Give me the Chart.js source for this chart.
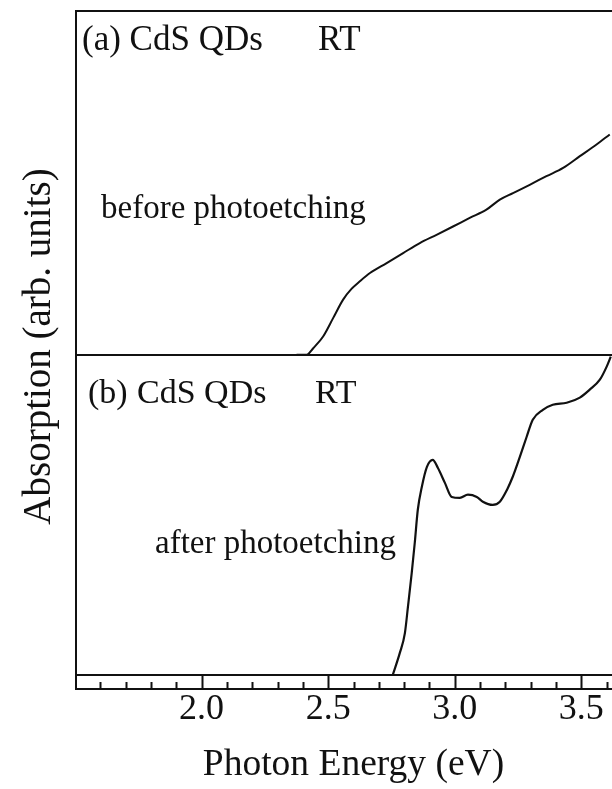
<!DOCTYPE html>
<html>
<head>
<meta charset="utf-8">
<script src="https://cdn.jsdelivr.net/npm/chart.js@4/dist/chart.umd.min.js"></script>
<style>
  html, body { margin: 0; padding: 0; background: #fff; overflow: hidden; }
  #wrap { width: 634px; height: 789px; }
</style>
</head>
<body>
<div id="wrap"><canvas id="absorption-chart" width="634" height="789"></canvas></div>
<script>
// (a) before photoetching
const energyA = [2.375, 2.415, 2.441, 2.480, 2.520, 2.559, 2.592, 2.625, 2.665, 2.731, 2.796, 2.862,
    2.928, 2.993, 3.059, 3.125, 3.178, 3.230, 3.296, 3.362, 3.428, 3.494, 3.560, 3.612];
const absorbA = [0, 0, 0.019, 0.053, 0.107, 0.160, 0.191, 0.213, 0.237, 0.266, 0.295, 0.324,
    0.348, 0.372, 0.397, 0.421, 0.450, 0.469, 0.493, 0.518, 0.542, 0.576, 0.610, 0.639];

// (b) after photoetching
const energyB = [2.755, 2.783, 2.803, 2.815, 2.830, 2.842, 2.854, 2.870, 2.890, 2.913, 2.933, 2.961,
    2.988, 3.020, 3.052, 3.087, 3.111, 3.150, 3.178, 3.206, 3.229, 3.257, 3.284, 3.308,
    3.348, 3.387, 3.442, 3.494, 3.533, 3.573, 3.600, 3.616];
const absorbB = [0, 0.069, 0.131, 0.213, 0.319, 0.413, 0.516, 0.588, 0.650, 0.672, 0.647, 0.600,
    0.556, 0.553, 0.563, 0.556, 0.541, 0.531, 0.541, 0.578, 0.619, 0.681, 0.744, 0.797,
    0.828, 0.844, 0.850, 0.866, 0.891, 0.922, 0.963, 0.994];

// x axis ticks
const xTickValues = [2.0, 2.5, 3.0, 3.5];
const xTickLabels = ["2.0", "2.5", "3.0", "3.5"];

const ink = "#111";
const serif = "'Liberation Serif', 'Times New Roman', serif";

const toPoints = (xs, ys) => xs.map((x, i) => ({ x: x, y: ys[i] }));

// frame, tick strip and the panel texts
const framePlugin = {
    id: "frame",
    afterDraw(chart) {
        const ctx = chart.ctx;
        const area = chart.chartArea;
        const xs = chart.scales.x;
        const yA = chart.scales.yA;
        const stripBottom = area.bottom + 14;

        ctx.save();
        ctx.strokeStyle = ink;
        ctx.lineWidth = 2;
        ctx.beginPath();
        ctx.moveTo(area.left + 1, area.top + 1);
        ctx.lineTo(area.right, area.top + 1);
        ctx.moveTo(area.left + 1, area.top);
        ctx.lineTo(area.left + 1, stripBottom);
        ctx.moveTo(area.left, Math.round(yA.bottom));
        ctx.lineTo(area.right, Math.round(yA.bottom));
        ctx.moveTo(area.left, area.bottom);
        ctx.lineTo(area.right, area.bottom);
        ctx.moveTo(area.left, stripBottom);
        ctx.lineTo(area.right, stripBottom);
        ctx.stroke();

        // minor ticks every 0.1, major every 0.5
        ctx.beginPath();
        for (let i = 16; i <= 37; i++) {
            const px = Math.round(xs.getPixelForValue(i / 10)) + 0.5;
            const major = i % 5 === 0;
            ctx.moveTo(px, major ? area.bottom : area.bottom + 7);
            ctx.lineTo(px, stripBottom);
        }
        ctx.stroke();

        ctx.fillStyle = ink;
        ctx.textBaseline = "alphabetic";
        ctx.textAlign = "left";
        const L = area.left;
        const T = area.top;
        ctx.font = "35px " + serif;
        ctx.fillText("(a) CdS QDs", L + 7, T + 40);
        ctx.fillText("RT", L + 243, T + 40);
        ctx.font = "34px " + serif;
        ctx.fillText("(b)", L + 13, T + 393);
        ctx.fillText("CdS QDs", L + 62, T + 393);
        ctx.fillText("RT", L + 240, T + 393);
        ctx.font = "33px " + serif;
        ctx.fillText("before photoetching", L + 26, T + 208);
        ctx.fillText("after photoetching", L + 80, T + 543);

        // y axis title
        ctx.font = "39px " + serif;
        ctx.textAlign = "center";
        ctx.translate(50, (area.top + area.bottom) / 2 + 4);
        ctx.rotate(-Math.PI / 2);
        ctx.fillText("Absorption (arb. units)", 0, 0);
        ctx.restore();
    },
};

const ctx = document.getElementById("absorption-chart").getContext("2d");
new Chart(ctx, {
    type: "line",
    data: {
        datasets: [
            {
                label: "before photoetching",
                data: toPoints(energyA, absorbA),
                yAxisID: "yA",
                borderColor: ink,
                borderWidth: 2,
                pointRadius: 0,
                cubicInterpolationMode: "monotone",
                fill: false,
            },
            {
                label: "after photoetching",
                data: toPoints(energyB, absorbB),
                yAxisID: "yB",
                borderColor: ink,
                borderWidth: 2.2,
                pointRadius: 0,
                cubicInterpolationMode: "monotone",
                fill: false,
            },
        ],
    },
    options: {
        responsive: false,
        devicePixelRatio: 1,
        animation: false,
        layout: { padding: { left: 75, top: 10, right: 2, bottom: 0 } },
        plugins: {
            legend: { display: false },
            tooltip: { enabled: false },
        },
        scales: {
            x: {
                type: "linear",
                position: "bottom",
                min: 1.5,
                max: 3.7,
                grid: { display: false, drawTicks: false },
                border: { display: false },
                afterBuildTicks: (axis) => {
                    axis.ticks = xTickValues.map((v) => ({ value: v }));
                },
                ticks: {
                    callback: (value, index) => xTickLabels[index],
                    padding: 17,
                    maxRotation: 0,
                    autoSkip: false,
                    color: ink,
                    font: { family: serif, size: 36, lineHeight: 1 },
                },
                title: {
                    display: true,
                    text: "Photon Energy (eV)",
                    color: ink,
                    font: { family: serif, size: 37.5, lineHeight: 1 },
                    padding: { top: 1.25, bottom: 5.25 },
                },
            },
            yA: {
                type: "linear",
                position: "right",
                stack: "panels",
                stackWeight: 344.5,
                min: 0,
                max: 1,
                display: false,
            },
            yB: {
                type: "linear",
                position: "right",
                stack: "panels",
                stackWeight: 320,
                min: 0,
                max: 1,
                display: false,
            },
        },
    },
    plugins: [framePlugin],
});
</script>
</body>
</html>
